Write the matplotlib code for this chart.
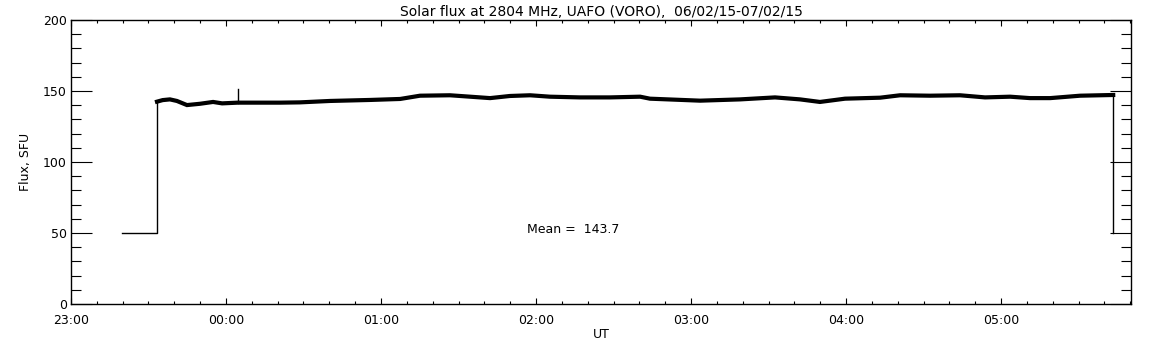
import matplotlib
matplotlib.use('Agg')
import matplotlib.pyplot as plt
from matplotlib.ticker import MultipleLocator

# time in minutes after 23:00 UT
t_flux = [33.3, 35.5, 38.3, 41.0, 44.9, 49.9, 55.0, 58.5, 64.6,
          69.3, 80.9, 88.6, 100.3, 115.7, 127.4, 135.1, 146.7, 154.5, 162.2,
          169.9, 177.7, 185.4, 197.0, 208.6, 220.3, 224.1, 243.5, 259.0,
          272.5, 282.2, 289.9, 299.6, 313.2, 320.9, 332.5, 344.1, 353.8,
          363.5, 371.2, 379.0, 390.6, 398.3, 403.4]
flux = [142.5, 143.6, 144.1, 143.0, 140.1, 141.0, 142.3, 141.3, 141.8,
        141.8, 141.8, 142.0, 143.0, 143.7, 144.4, 146.7, 147.0, 146.0,
        145.0, 146.5, 147.0, 146.0, 145.5, 145.5, 146.0, 144.6, 143.2, 144.1,
        145.5, 144.1, 142.3, 144.6, 145.3, 147.0, 146.7, 147.0, 145.5, 146.0,
        145.0, 145.0, 146.7, 147.0, 147.2]

# single spike near 00:05
t_spike = [64.6, 64.6]
v_spike = [141.8, 151.5]

# calibration / gap levels before and after the record
t_start = [19.7, 33.3, 33.3]
v_start = [50, 50, 142.5]
t_end = [403.4, 403.4]
v_end = [147.2, 50]

hour_ticks = [0, 60, 120, 180, 240, 300, 360]
hour_labels = ['23:00', '00:00', '01:00', '02:00', '03:00', '04:00', '05:00']
mean_flux = 143.7

fig = plt.figure(figsize=(11.52, 3.45), dpi=100)
ax = fig.add_axes([0.0616, 0.1188, 0.9202, 0.8232])

ax.plot(t_start, v_start, color='black', lw=1.0)
ax.plot(t_end, v_end, color='black', lw=1.0)
ax.plot(t_spike, v_spike, color='black', lw=1.0)
ax.plot(t_flux, flux, color='black', lw=3.0, solid_joinstyle='miter')

ax.set_xlim(0, 410.3)
ax.set_ylim(0, 200)
ax.set_xticks(hour_ticks)
ax.set_xticklabels(hour_labels)
ax.xaxis.set_minor_locator(MultipleLocator(10))
ax.set_yticks([0, 50, 100, 150, 200])
ax.yaxis.set_minor_locator(MultipleLocator(10))

ax.tick_params(axis='x', which='major', direction='in', length=4.3, width=0.8,
               top=True, labelsize=9, pad=7)
ax.tick_params(axis='x', which='minor', direction='in', length=2.2, width=0.8,
               top=True)
ax.tick_params(axis='y', which='major', direction='in', length=15, width=0.8,
               right=True, labelsize=9, pad=3)
ax.tick_params(axis='y', which='minor', direction='in', length=7.5, width=0.8,
               right=True)
for s in ax.spines.values():
    s.set_linewidth(1.0)

ax.set_title('Solar flux at 2804 MHz, UAFO (VORO),  06/02/15-07/02/15',
             fontsize=10, pad=3)
ax.set_xlabel('UT', fontsize=9, labelpad=1)
ax.set_ylabel('Flux, SFU', fontsize=9, labelpad=8)
ax.text(176.5, 52.5, 'Mean =  %.1f' % mean_flux, fontsize=9,
        ha='left', va='center')

fig.savefig('out.png', dpi=100)
